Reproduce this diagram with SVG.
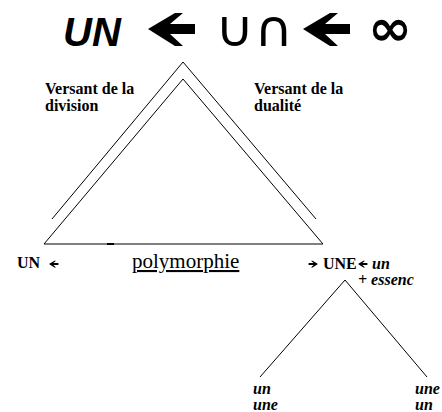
<svg xmlns="http://www.w3.org/2000/svg" width="442" height="412" viewBox="0 0 442 412">
<style>
.title{font-family:"Liberation Sans",Arial,sans-serif;font-weight:bold;font-style:italic;font-size:40px;fill:#000}
.sym{font-family:"DejaVu Sans",sans-serif;fill:#000}
.lab{font-family:"Liberation Serif","Times New Roman",serif;font-weight:bold;font-size:16px;fill:#000}
.it{font-family:"Liberation Serif","Times New Roman",serif;font-weight:bold;font-style:italic;font-size:16px;fill:#000}
.reg{font-family:"Liberation Serif","Times New Roman",serif;font-size:21px;fill:#000}
.ln{fill:none;stroke:#000;stroke-width:1}
</style>
<defs>
<path id="arr" d="M0,0 L27,-16 L35,-16 L22,-5 L47,-5 L47,5 L22,5 L35,17 L27,17 Z" fill="#000"/>
</defs>
<g id="title">
<text class="title" x="63" y="46">UN</text>
<use href="#arr" transform="translate(148,29)"/>
<text class="sym" x="215" y="46" font-size="50" textLength="78" lengthAdjust="spacingAndGlyphs">∪∩</text>
<use href="#arr" transform="translate(303,29)"/>
<text class="sym" x="368" y="45" font-size="50" font-weight="bold" font-style="italic" textLength="44" lengthAdjust="spacingAndGlyphs">∞</text>
</g>
<g id="connectors">
<polyline class="ln" stroke-width="1.4" points="52,219 183,62 316,219"/>
<polygon class="ln" stroke="#333" points="183,79 44,244 323,244"/>
<line x1="107" y1="244" x2="114" y2="244" stroke="#000" stroke-width="2"/>
<polyline class="ln" points="260,377 345,280 427,377"/>
</g>
<g id="versant-division">
<text class="lab" x="45" y="94">Versant de la</text>
<text class="lab" x="45" y="111">division</text>
</g>
<g id="versant-dualite">
<text class="lab" x="254" y="94">Versant de la</text>
<text class="lab" x="254" y="111">dualité</text>
</g>
<g id="un-left">
<text class="lab" x="17" y="268">UN</text>
<use href="#arr" transform="translate(49,264) scale(0.2)"/>
</g>
<g id="polymorphie">
<text class="reg" x="132" y="268" text-decoration="underline">polymorphie</text>
</g>
<g id="une">
<use href="#arr" transform="translate(318,264) scale(-0.2,0.2)"/>
<text class="lab" x="323" y="269">UNE</text>
<use href="#arr" transform="translate(358,264) scale(0.2)"/>
<text class="it" x="372" y="269">un</text>
<text class="it" x="358" y="285" font-size="15">+ essenc</text>
</g>
<g id="leaf-left">
<text class="it" x="253" y="394" font-size="15">un</text>
<text class="it" x="253" y="410" font-size="15">une</text>
</g>
<g id="leaf-right">
<text class="it" x="415" y="394" font-size="15">une</text>
<text class="it" x="415" y="410" font-size="15">un</text>
</g>
</svg>
